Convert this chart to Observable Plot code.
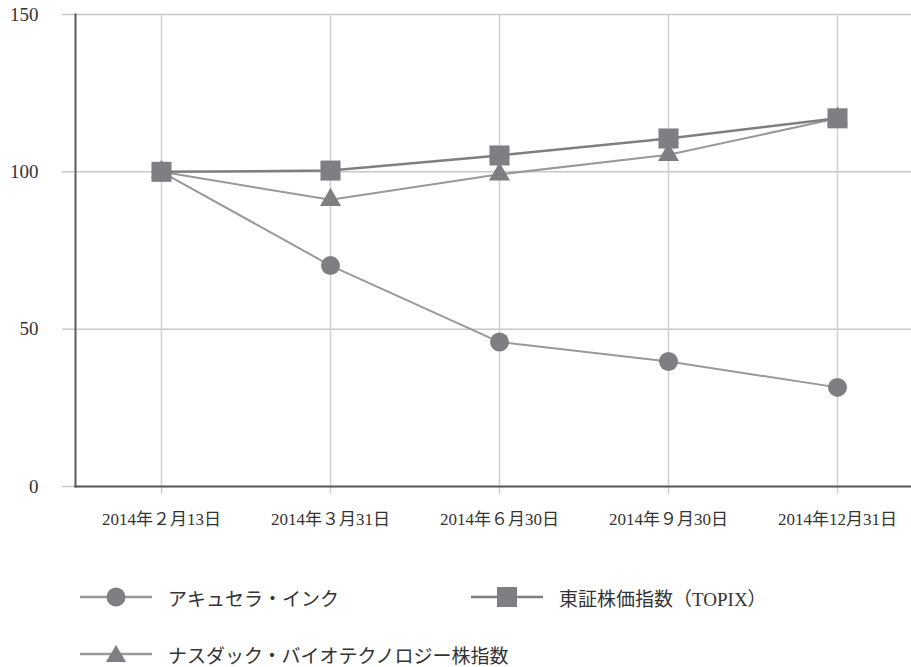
<!DOCTYPE html>
<html><head><meta charset="utf-8">
<script src="https://cdn.jsdelivr.net/npm/d3@7"></script>
<script src="https://cdn.jsdelivr.net/npm/@observablehq/plot@0.6"></script>
<style>
html,body{margin:0;padding:0;background:#fff;overflow:hidden;}
#wrap{width:911px;}
.leg{position:relative;height:117px;font-family:"Liberation Serif","Noto Sans CJK JP";font-size:19px;color:#333;}
.item{position:absolute;display:flex;align-items:center;height:30px;}
.item svg{display:block;margin-right:16px;}
</style></head>
<body><div id="wrap"></div>
<script>
const dates = ["2014年２月13日","2014年３月31日","2014年６月30日","2014年９月30日","2014年12月31日"];
const acucela = [100, 70.2, 45.9, 39.7, 31.5];
const topix = [100, 100.4, 105.2, 110.6, 117.0];
const nasdaqBio = [100, 91.1, 99.2, 105.4, 117.0];
const seriesNames = ["アキュセラ・インク", "東証株価指数（TOPIX）", "ナスダック・バイオテクノロジー株指数"];
const yTicks = [0, 50, 100, 150];

const toRows = (vals) => dates.map((d, i) => ({date: d, value: vals[i]}));
const rA = toRows(acucela), rT = toRows(topix), rN = toRows(nasdaqBio);

const markFill = "#7e7e83";

const chart = Plot.plot({
  width: 911,
  height: 550,
  marginLeft: 75,
  marginRight: 0,
  marginTop: 14,
  marginBottom: 64,
  style: {background: "#fff", color: "#333", fontFamily: '"Liberation Serif","Noto Sans CJK JP"'},
  x: {type: "point", domain: dates, range: [160, 837], padding: 0},
  y: {domain: [0, 150]},
  marks: [
    Plot.gridY(yTicks, {stroke: "#c8c8c8", strokeOpacity: 1, strokeWidth: 1.5}),
    Plot.ruleX(dates, {y1: 0, y2: 150, stroke: "#cfcfcf", strokeWidth: 1.5}),
    Plot.axisY(yTicks, {tickSize: 13, tickPadding: 24, stroke: "#c8c8c8", strokeWidth: 1.5, fontSize: 19, fill: "#333", label: null}),
    Plot.axisX({tickSize: 8, tickPadding: 18, stroke: "#cfcfcf", strokeWidth: 1.5, fontSize: 17, fill: "#333", label: null}),
    Plot.frame({anchor: "left", stroke: "#5a5a5a", strokeWidth: 2}),
    Plot.frame({anchor: "bottom", stroke: "#5a5a5a", strokeWidth: 2}),
    Plot.line(rA, {x: "date", y: "value", stroke: "#999", strokeWidth: 2}),
    Plot.line(rN, {x: "date", y: "value", stroke: "#999", strokeWidth: 2}),
    Plot.line(rT, {x: "date", y: "value", stroke: "#7f7f7f", strokeWidth: 2.5}),
    Plot.dot(rA, {x: "date", y: "value", symbol: "circle", r: 9.5, fill: markFill}),
    Plot.dot(rN, {x: "date", y: "value", symbol: "triangle", r: 7.8, fill: markFill}),
    Plot.dot(rT, {x: "date", y: "value", symbol: "square", r: 11.3, fill: markFill})
  ]
});
document.getElementById("wrap").appendChild(chart);

// legend
const leg = document.createElement("div");
leg.className = "leg";
const shapes = [
  '<circle cx="36" cy="15" r="9.5" fill="' + markFill + '"/>',
  '<rect x="26" y="5" width="20" height="20" fill="' + markFill + '"/>',
  '<path d="M36 6 L46 23 L26 23 Z" fill="' + markFill + '"/>'
];
const pos = [[80, 32], [471, 32], [80, 89]];
const lineCols = ["#999", "#7f7f7f", "#999"];
seriesNames.forEach((name, i) => {
  const it = document.createElement("div");
  it.className = "item";
  it.style.left = pos[i][0] + "px";
  it.style.top = pos[i][1] + "px";
  it.innerHTML = '<svg width="72" height="30"><line x1="0" x2="72" y1="15" y2="15" stroke="' + lineCols[i] + '" stroke-width="2.5"/>' + shapes[i] + '</svg><span>' + name + '</span>';
  leg.appendChild(it);
});
document.getElementById("wrap").appendChild(leg);
</script></body></html>
